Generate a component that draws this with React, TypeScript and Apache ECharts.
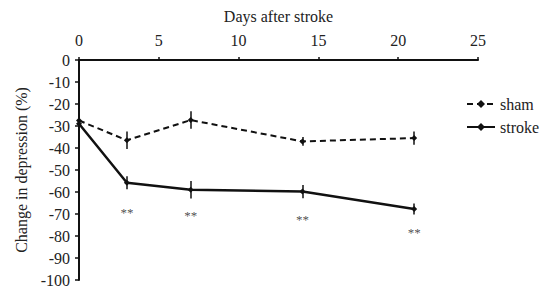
import React, { useEffect, useRef } from "react";
import * as echarts from "echarts";

const days = [0, 3, 7, 14, 21];
const shamMean = [-27.5, -36.5, -27.3, -37, -35.5];
const shamErr = [1, 4, 4, 2, 3];
const strokeMean = [-29, -55.8, -59, -59.8, -67.7];
const strokeErr = [1, 3, 4, 3, 2.5];
const starDays = [3, 7, 14, 21];
const starY = [-69.5, -70.5, -72.5, -78.5];
const yTicks = [0, -10, -20, -30, -40, -50, -60, -70, -80, -90, -100];

const FONT = "Liberation Serif";
const INK = "#111";
const TXT = "#222";

export default function App() {
  const ref = useRef<HTMLDivElement>(null);
  useEffect(() => {
    if (!ref.current) return;
    const chart = echarts.init(ref.current, undefined, { renderer: "svg" });
    const errMark = (mean: number[], err: number[]) => ({
      silent: true,
      symbol: ["none", "none"],
      label: { show: false },
      emphasis: { disabled: true },
      lineStyle: { color: INK, width: 1.5, type: "solid" },
      data: days.map((d, i) => [
        { coord: [d, mean[i] - err[i]] },
        { coord: [d, mean[i] + err[i]] },
      ]),
    });
    chart.setOption({
      animation: false,
      grid: { left: 79, right: 65, top: 60, bottom: 11 },
      xAxis: {
        type: "value",
        position: "top",
        min: 0,
        max: 25,
        interval: 5,
        name: "Days after stroke",
        nameLocation: "middle",
        nameGap: 36,
        nameTextStyle: { fontFamily: FONT, fontSize: 16, color: TXT },
        axisLine: { lineStyle: { color: INK, width: 2 } },
        axisTick: { show: true, length: 3, lineStyle: { color: INK, width: 1.5 } },
        axisLabel: { fontFamily: FONT, fontSize: 16, color: TXT, margin: 12 },
        splitLine: { show: false },
      },
      yAxis: {
        type: "value",
        min: -100,
        max: 0,
        interval: 10,
        name: "Change in depression (%)",
        nameLocation: "middle",
        nameGap: 48,
        nameTextStyle: { fontFamily: FONT, fontSize: 16, color: TXT },
        axisLine: { show: true, lineStyle: { color: INK, width: 2 } },
        axisTick: { show: true, length: 4, lineStyle: { color: INK, width: 1.5 } },
        axisLabel: {
          fontFamily: FONT,
          fontSize: 16,
          color: TXT,
          margin: 9,
          formatter: (v: number) => (yTicks.includes(v) ? String(v) : ""),
        },
        splitLine: { show: false },
      },
      legend: {
        orient: "vertical",
        left: 461,
        top: 91,
        itemWidth: 28,
        itemHeight: 10,
        itemGap: 7,
        textStyle: { fontFamily: FONT, fontSize: 16, color: TXT },
        data: ["sham", "stroke"],
      },
      series: [
        {
          type: "line",
          name: "sham",
          data: days.map((d, i) => [d, shamMean[i]]),
          symbol: "diamond",
          symbolSize: 6,
          itemStyle: { color: INK },
          lineStyle: { color: INK, width: 2, type: [6, 4] },
          markLine: errMark(shamMean, shamErr),
          z: 3,
        },
        {
          type: "line",
          name: "stroke",
          data: days.map((d, i) => [d, strokeMean[i]]),
          symbol: "diamond",
          symbolSize: 6,
          itemStyle: { color: INK },
          lineStyle: { color: INK, width: 2.5 },
          markLine: errMark(strokeMean, strokeErr),
          z: 4,
        },
        {
          type: "scatter",
          name: "stars",
          symbolSize: 1,
          silent: true,
          itemStyle: { color: "rgba(0,0,0,0)" },
          data: starDays.map((d, i) => [d, starY[i]]),
          label: {
            show: true,
            position: "inside",
            formatter: "**",
            fontFamily: FONT,
            fontSize: 13,
            color: TXT,
          },
        },
      ],
    });
    return () => chart.dispose();
  }, []);
  return (
    <>
      <style>{`.serif-chart text, .serif-chart tspan { font-family: "Liberation Serif", "Times New Roman", serif !important; }`}</style>
      <div
        ref={ref}
        className="serif-chart"
        style={{ width: 543, height: 291, position: "absolute", left: 0, top: 0 }}
      />
    </>
  );
}
